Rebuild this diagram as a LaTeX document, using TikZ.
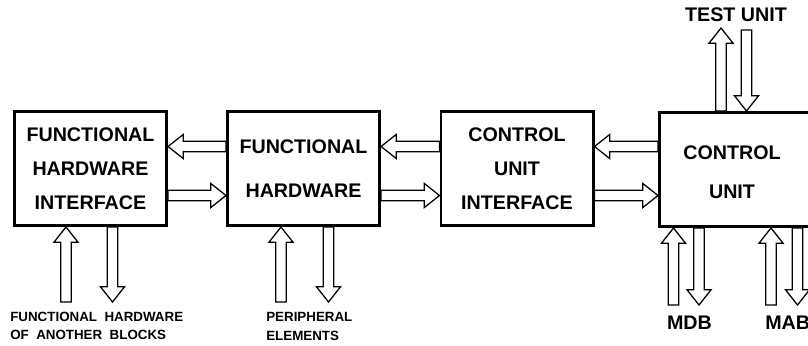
\documentclass[tikz,border=0pt]{standalone}
\usepackage{fontspec}
\setmainfont{Liberation Sans}
\usetikzlibrary{calc}
\newcommand{\arrshaft}{0.13cm}
\newcommand{\arrhead}{0.3cm}
\newcommand{\arrtip}{0.38cm}
% hollow block arrow from #1 to #2
\newcommand{\blockarrow}[2]{%
  \draw[hollow] let \p1=(#1), \p2=(#2),
      \n1={atan2(\y2-\y1,\x2-\x1)}, \n2={veclen(\x2-\x1,\y2-\y1)-\arrtip}
    in ($(\p1)+(\n1+90:\arrshaft)$)
    -- ($(\p1)+(\n1:\n2)+(\n1+90:\arrshaft)$)
    -- ($(\p1)+(\n1:\n2)+(\n1+90:\arrhead)$)
    -- (\p2)
    -- ($(\p1)+(\n1:\n2)+(\n1-90:\arrhead)$)
    -- ($(\p1)+(\n1:\n2)+(\n1-90:\arrshaft)$)
    -- ($(\p1)+(\n1-90:\arrshaft)$) -- cycle;}
\tikzset{
  blockbox/.style={draw, line width=2.1pt, minimum width=3.8cm, minimum height=2.85cm,
    align=center, font=\bfseries\fontsize{14pt}{24pt}\selectfont},
  boxtext/.style={align=center, font=\bfseries\fontsize{14pt}{24pt}\selectfont},
  hollow/.style={draw, fill=white, line width=0.9pt, line join=miter},
  buslabel/.style={font=\bfseries\fontsize{14pt}{16pt}\selectfont, inner sep=0pt},
  smalllabel/.style={font=\bfseries\fontsize{9.5pt}{13pt}\selectfont, align=left, inner sep=0pt},
}
\begin{document}
\begin{tikzpicture}[x=0.025cm, y=-0.025cm]
  \useasboundingbox (0,0) rectangle (808,345);
  % blocks
  \node[blockbox] (fhi) at (90.5,168.5) {FUNCTIONAL\\HARDWARE\\INTERFACE};
  \node[blockbox] (fh) at (303.5,168.5) {FUNCTIONAL\\[7pt]HARDWARE};
  \node[blockbox] (cui) at (517,168.5) {CONTROL\\UNIT\\INTERFACE};
  \node[blockbox, minimum width=4.3cm, anchor=west] (cu) at (658,169.5) {};
  \node[boxtext] (cutext) at (732,172) {CONTROL\\[4pt]UNIT};
  % labels
  \node[buslabel] (test) at (736,15) {TEST UNIT};
  \node[buslabel] (mdb) at (689.5,323) {MDB};
  \node[buslabel, anchor=west] (mab) at (765,323) {MAB};
  \node[smalllabel, anchor=west] (other) at (10,326) {FUNCTIONAL\ \ HARDWARE\\OF\ \ ANOTHER\ \ BLOCKS};
  \node[smalllabel, anchor=west] (periph) at (266,326.5) {PERIPHERAL\\ELEMENTS};
  % horizontal buses
  \blockarrow{$(fh.west)+(0,-22)$}{$(fhi.east)+(0,-22)$}
  \blockarrow{$(fhi.east)+(0,27)$}{$(fh.west)+(0,27)$}
  \blockarrow{$(cui.west)+(0,-22)$}{$(fh.east)+(0,-22)$}
  \blockarrow{$(fh.east)+(0,27)$}{$(cui.west)+(0,27)$}
  \blockarrow{$(cu.west)+(0,-23)$}{$(cui.east)+(0,-22)$}
  \blockarrow{$(cui.east)+(0,27)$}{$(cu.west)+(0,26)$}
  % vertical buses
  \blockarrow{$(fhi.south)+(-24.5,75)$}{$(fhi.south)+(-24.5,0)$}
  \blockarrow{$(fhi.south)+(22,0)$}{$(fhi.south)+(22,75)$}
  \blockarrow{$(fh.south)+(-22.5,75)$}{$(fh.south)+(-22.5,0)$}
  \blockarrow{$(fh.south)+(25,0)$}{$(fh.south)+(25,75)$}
  \blockarrow{$(cu.north west)+(63,0)$}{$(cu.north west)+(63,-83)$}
  \blockarrow{$(cu.north west)+(88.5,-81)$}{$(cu.north west)+(88.5,0)$}
  \blockarrow{$(cu.south west)+(15.5,77)$}{$(cu.south west)+(15.5,0)$}
  \blockarrow{$(cu.south west)+(41,0)$}{$(cu.south west)+(41,77)$}
  \blockarrow{$(cu.south west)+(113,77)$}{$(cu.south west)+(113,0)$}
  \blockarrow{$(cu.south west)+(139.5,0)$}{$(cu.south west)+(139.5,77)$}
\end{tikzpicture}
\end{document}
